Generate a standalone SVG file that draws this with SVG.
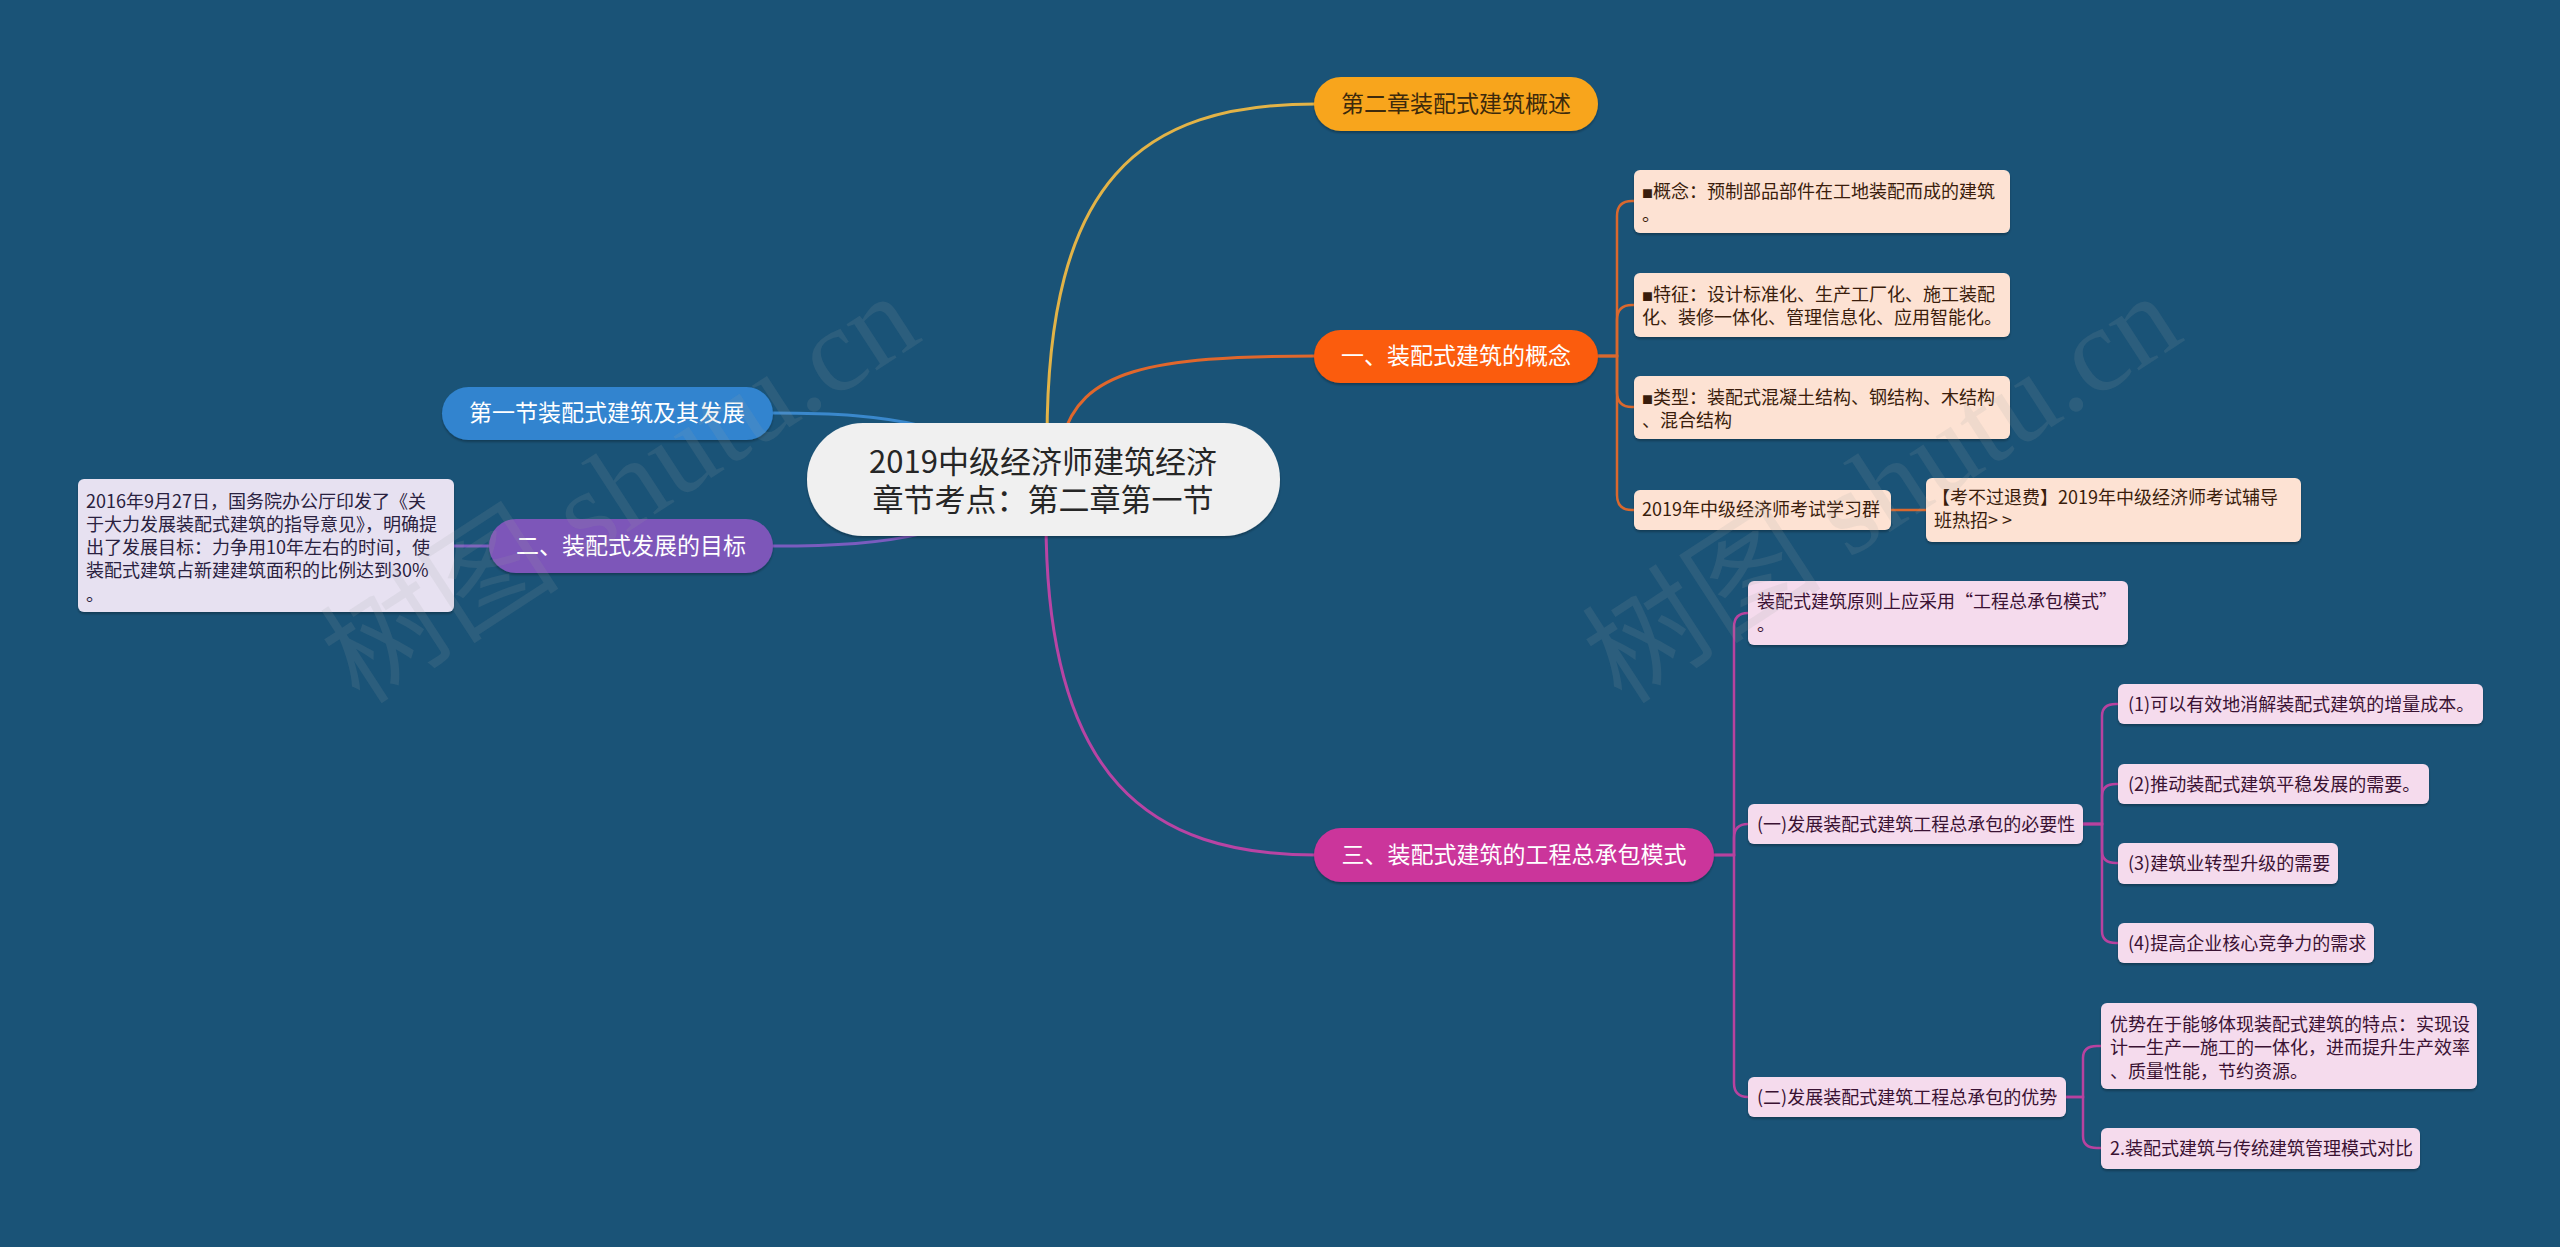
<svg xmlns="http://www.w3.org/2000/svg" width="2560" height="1247" viewBox="0 0 2560 1247">
<defs>
<filter id="sh" x="-10%" y="-20%" width="120%" height="150%">
<feDropShadow dx="0" dy="2" stdDeviation="1.2" flood-color="#000" flood-opacity="0.28"/>
</filter>
<style>
text{font-family:"Noto Sans CJK SC","Microsoft YaHei",sans-serif;}
.main{font-size:23px;text-anchor:middle;}
.w{fill:#ffffff;}
.s{font-size:18px;}
.pe{fill:#fde2d3;}
.pi{fill:#f5dbed;}
.la{fill:#e7e1f1;}
.tpe{fill:#3a1d0c;}
.tpi{fill:#3a1233;}
.tla{fill:#2a2140;}
.c{fill:none;stroke-linecap:round;}
.sq{font-size:11px;}
.wm{font-family:"Liberation Serif","Noto Sans CJK SC",serif;font-size:120px;fill:#9aa0a6;fill-opacity:0.14;}
</style>
</defs>
<rect x="0" y="0" width="2560" height="1247" fill="#1a5377"/>

<g id="connectors">
<path class="c" d="M1047,440 C1047,180 1140,104 1316,104" stroke="#e2b347" stroke-width="3"/>
<path class="c" d="M1062,440 C1080,370 1150,356 1316,356" stroke="#e0672c" stroke-width="3"/>
<path class="c" d="M1046,520 C1046,780 1150,855 1316,855" stroke="#b844a4" stroke-width="3"/>
<path class="c" d="M1044,478 C950,425 900,413 773,413" stroke="#3a88cc" stroke-width="3"/>
<path class="c" d="M1044,482 C950,535 900,546 773,546" stroke="#7a5cbf" stroke-width="3"/>
<path class="c" d="M489,546 H454" stroke="#7a5cbf" stroke-width="3"/>
<g stroke="#d9682e" stroke-width="2.5">
<path class="c" d="M1598,356 H1617 V216 Q1617,201 1632,201 H1634"/>
<path class="c" d="M1598,356 H1617 V320 Q1617,305 1632,305 H1634"/>
<path class="c" d="M1598,356 H1617 V392 Q1617,407 1632,407 H1634"/>
<path class="c" d="M1598,356 H1617 V495 Q1617,510 1632,510 H1634"/>
<path class="c" d="M1891,510 H1926"/>
</g>
<g stroke="#b8429f" stroke-width="2.5">
<path class="c" d="M1714,855 H1734 V627 Q1734,613 1748,613"/>
<path class="c" d="M1714,855 H1734 V838 Q1734,824 1748,824"/>
<path class="c" d="M1714,855 H1734 V1083 Q1734,1097 1748,1097"/>
<path class="c" d="M2083,824 H2102 V716 Q2102,704 2116,704 H2118"/>
<path class="c" d="M2083,824 H2102 V796 Q2102,784 2116,784 H2118"/>
<path class="c" d="M2083,824 H2102 V851 Q2102,863 2116,863 H2118"/>
<path class="c" d="M2083,824 H2102 V931 Q2102,943 2116,943 H2118"/>
<path class="c" d="M2066,1097 H2083 V1058 Q2083,1046 2097,1046 H2101"/>
<path class="c" d="M2066,1097 H2083 V1136 Q2083,1148 2097,1148 H2101"/>
</g>
</g>

<g id="root">
<rect x="807" y="423" width="473" height="113" rx="56" fill="#f0f0f0" filter="url(#sh)"/>
<text x="1043" y="473" font-size="31" text-anchor="middle" fill="#262626">2019中级经济师建筑经济</text>
<text x="1043" y="511" font-size="31" text-anchor="middle" fill="#262626">章节考点：第二章第一节</text>
</g>

<g id="n-overview">
<rect x="1314" y="77" width="284" height="54" rx="27" fill="#f8a51d" filter="url(#sh)"/>
<text x="1456" y="112" class="main" fill="#3d2a0c">第二章装配式建筑概述</text>
</g>

<g id="n-concept">
<rect x="1314" y="330" width="284" height="53" rx="26.5" fill="#fb5b0b" filter="url(#sh)"/>
<text x="1456" y="364" class="main w">一、装配式建筑的概念</text>
</g>

<g id="n-contract">
<rect x="1314" y="828" width="400" height="54" rx="27" fill="#cb359b" filter="url(#sh)"/>
<text x="1514" y="863" class="main w">三、装配式建筑的工程总承包模式</text>
</g>

<g id="n-section1">
<rect x="442" y="387" width="331" height="53" rx="26.5" fill="#3184cf" filter="url(#sh)"/>
<text x="607" y="421" class="main w">第一节装配式建筑及其发展</text>
</g>

<g id="n-goal">
<rect x="489" y="519" width="284" height="54" rx="27" fill="#7d56b9" filter="url(#sh)"/>
<text x="631" y="554" class="main w">二、装配式发展的目标</text>
</g>

<g id="n-goal-text">
<rect x="78" y="479" width="376" height="133" rx="6" class="la" filter="url(#sh)"/>
<text class="s tla" x="86" y="508">2016年9月27日，国务院办公厅印发了《关</text>
<text class="s tla" x="86" y="531">于大力发展装配式建筑的指导意见》，明确提</text>
<text class="s tla" x="86" y="554">出了发展目标：力争用10年左右的时间，使</text>
<text class="s tla" x="86" y="577">装配式建筑占新建建筑面积的比例达到30%</text>
<text class="s tla" x="86" y="601">。</text>
</g>

<g id="n-c1">
<rect x="1634" y="170" width="376" height="63" rx="6" class="pe" filter="url(#sh)"/>
<text class="s tpe" x="1642" y="198"><tspan class="sq">■</tspan>概念：预制部品部件在工地装配而成的建筑</text>
<text class="s tpe" x="1642" y="221">。</text>
</g>
<g id="n-c2">
<rect x="1634" y="273" width="376" height="64" rx="6" class="pe" filter="url(#sh)"/>
<text class="s tpe" x="1642" y="301"><tspan class="sq">■</tspan>特征：设计标准化、生产工厂化、施工装配</text>
<text class="s tpe" x="1642" y="324">化、装修一体化、管理信息化、应用智能化。</text>
</g>
<g id="n-c3">
<rect x="1634" y="376" width="376" height="63" rx="6" class="pe" filter="url(#sh)"/>
<text class="s tpe" x="1642" y="404"><tspan class="sq">■</tspan>类型：装配式混凝土结构、钢结构、木结构</text>
<text class="s tpe" x="1642" y="427">、混合结构</text>
</g>
<g id="n-c4">
<rect x="1634" y="490" width="257" height="40" rx="6" class="pe" filter="url(#sh)"/>
<text class="s tpe" x="1642" y="516">2019年中级经济师考试学习群</text>
</g>
<g id="n-c4a">
<rect x="1926" y="478" width="375" height="64" rx="6" class="pe" filter="url(#sh)"/>
<text class="s tpe" x="1932" y="504">【考不过退费】2019年中级经济师考试辅导</text>
<text class="s tpe" x="1934" y="527">班热招&gt; &gt;</text>
</g>

<g id="n-m1">
<rect x="1748" y="581" width="380" height="64" rx="6" class="pi" filter="url(#sh)"/>
<text class="s tpi" x="1757" y="608">装配式建筑原则上应采用“工程总承包模式”</text>
<text class="s tpi" x="1757" y="631">。</text>
</g>
<g id="n-m2">
<rect x="1748" y="804" width="335" height="40" rx="6" class="pi" filter="url(#sh)"/>
<text class="s tpi" x="1757" y="831">(一)发展装配式建筑工程总承包的必要性</text>
</g>
<g id="n-m2a">
<rect x="2118" y="684" width="365" height="40" rx="6" class="pi" filter="url(#sh)"/>
<text class="s tpi" x="2128" y="711">(1)可以有效地消解装配式建筑的增量成本。</text>
</g>
<g id="n-m2b">
<rect x="2118" y="764" width="311" height="40" rx="6" class="pi" filter="url(#sh)"/>
<text class="s tpi" x="2128" y="791">(2)推动装配式建筑平稳发展的需要。</text>
</g>
<g id="n-m2c">
<rect x="2118" y="843" width="220" height="41" rx="6" class="pi" filter="url(#sh)"/>
<text class="s tpi" x="2128" y="870">(3)建筑业转型升级的需要</text>
</g>
<g id="n-m2d">
<rect x="2118" y="923" width="256" height="40" rx="6" class="pi" filter="url(#sh)"/>
<text class="s tpi" x="2128" y="950">(4)提高企业核心竞争力的需求</text>
</g>
<g id="n-m3">
<rect x="1748" y="1077" width="318" height="40" rx="6" class="pi" filter="url(#sh)"/>
<text class="s tpi" x="1757" y="1104">(二)发展装配式建筑工程总承包的优势</text>
</g>
<g id="n-m3a">
<rect x="2101" y="1003" width="376" height="86" rx="6" class="pi" filter="url(#sh)"/>
<text class="s tpi" x="2110" y="1031">优势在于能够体现装配式建筑的特点：实现设</text>
<text class="s tpi" x="2110" y="1054">计一生产一施工的一体化，进而提升生产效率</text>
<text class="s tpi" x="2110" y="1078">、质量性能，节约资源。</text>
</g>
<g id="n-m3b">
<rect x="2101" y="1128" width="319" height="41" rx="6" class="pi" filter="url(#sh)"/>
<text class="s tpi" x="2110" y="1155">2.装配式建筑与传统建筑管理模式对比</text>
</g>

<g id="watermark">
<text class="wm" transform="translate(360,706) rotate(-33)">树图 shutu.cn</text>
<text class="wm" transform="translate(1622,706) rotate(-33)">树图 shutu.cn</text>
</g>
</svg>
